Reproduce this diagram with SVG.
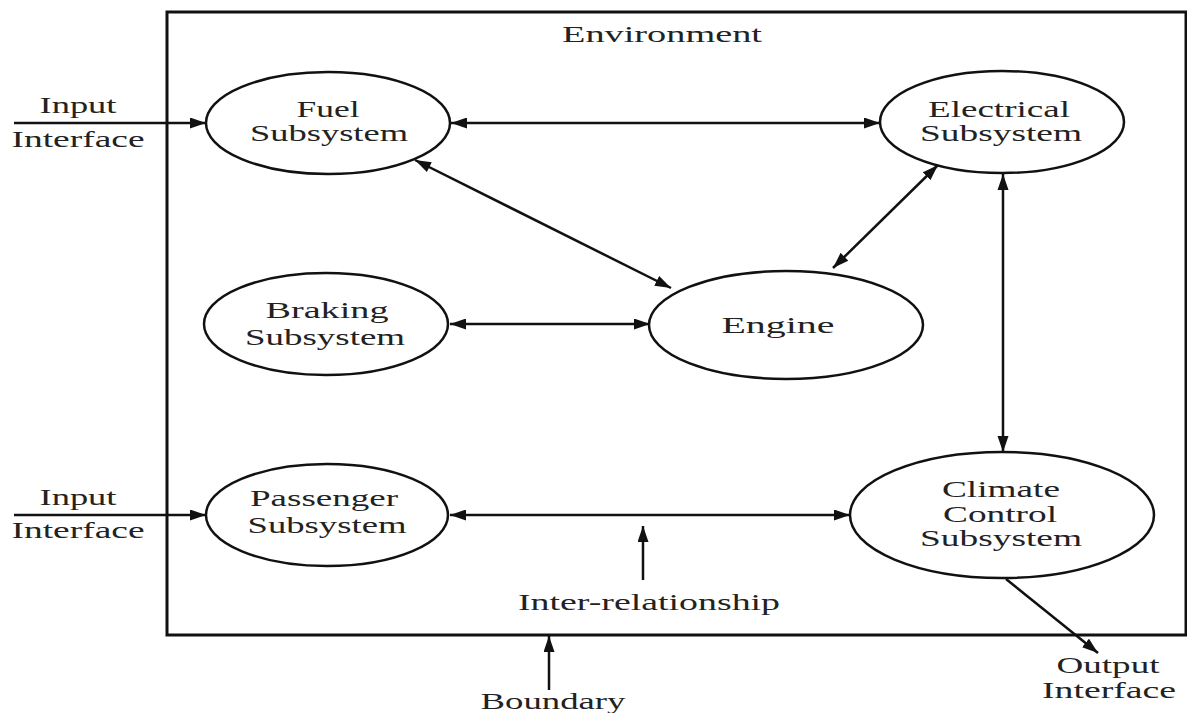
<svg xmlns="http://www.w3.org/2000/svg" width="1187" height="713" viewBox="0 0 1187 713">
<style>
text{font-family:"Liberation Serif","Times New Roman",serif;font-size:23px;fill:#222;text-anchor:middle}
.n{fill:#fff;stroke:#111;stroke-width:2.5}
.c{stroke:#111;stroke-width:2.5;fill:none}
.a{marker-end:url(#ah)}
.d{marker-start:url(#ahs);marker-end:url(#ah)}
</style>
<defs>
<marker id="ah" markerUnits="userSpaceOnUse" markerWidth="18" markerHeight="12" refX="16" refY="5.5" orient="auto"><path d="M0,0 L16,5.5 L0,11 Z" fill="#111"/></marker>
<marker id="ahs" markerUnits="userSpaceOnUse" markerWidth="18" markerHeight="12" refX="0" refY="5.5" orient="auto"><path d="M16,0 L0,5.5 L16,11 Z" fill="#111"/></marker>
</defs>
<rect width="1187" height="713" fill="#fff"/>
<g id="boundary">
<rect x="167" y="12" width="1019" height="623" fill="none" stroke="#111" stroke-width="3"/>
<text x="662" y="42" textLength="200" lengthAdjust="spacingAndGlyphs">Environment</text>
</g>
<g id="fuel"><ellipse class="n" cx="328" cy="123" rx="122" ry="51"/>
<text x="328" y="117" textLength="63" lengthAdjust="spacingAndGlyphs">Fuel</text>
<text x="329" y="141" textLength="158" lengthAdjust="spacingAndGlyphs">Subsystem</text></g>
<g id="electrical"><ellipse class="n" cx="1002" cy="122" rx="122" ry="51"/>
<text x="999" y="117" textLength="142" lengthAdjust="spacingAndGlyphs">Electrical</text>
<text x="1001" y="141" textLength="162" lengthAdjust="spacingAndGlyphs">Subsystem</text></g>
<g id="braking"><ellipse class="n" cx="326" cy="324" rx="122" ry="51"/>
<text x="327" y="318" textLength="123" lengthAdjust="spacingAndGlyphs">Braking</text>
<text x="325" y="345" textLength="160" lengthAdjust="spacingAndGlyphs">Subsystem</text></g>
<g id="engine"><ellipse class="n" cx="786" cy="325" rx="137" ry="54"/>
<text x="778" y="333" textLength="113" lengthAdjust="spacingAndGlyphs">Engine</text></g>
<g id="passenger"><ellipse class="n" cx="327" cy="515" rx="121" ry="51"/>
<text x="324" y="506" textLength="148" lengthAdjust="spacingAndGlyphs">Passenger</text>
<text x="327" y="533" textLength="159" lengthAdjust="spacingAndGlyphs">Subsystem</text></g>
<g id="climate"><ellipse class="n" cx="1002" cy="515" rx="152" ry="63"/>
<text x="1001" y="497" textLength="118" lengthAdjust="spacingAndGlyphs">Climate</text>
<text x="1000" y="522" textLength="114" lengthAdjust="spacingAndGlyphs">Control</text>
<text x="1001" y="546" textLength="162" lengthAdjust="spacingAndGlyphs">Subsystem</text></g>
<g id="labels">
<text x="78" y="113" textLength="77" lengthAdjust="spacingAndGlyphs">Input</text>
<text x="78" y="147" textLength="133" lengthAdjust="spacingAndGlyphs">Interface</text>
<text x="78" y="505" textLength="77" lengthAdjust="spacingAndGlyphs">Input</text>
<text x="78" y="538" textLength="133" lengthAdjust="spacingAndGlyphs">Interface</text>
<text x="649" y="610" textLength="262" lengthAdjust="spacingAndGlyphs">Inter-relationship</text>
<text x="553" y="709" textLength="145" lengthAdjust="spacingAndGlyphs">Boundary</text>
<text x="1108" y="673" textLength="103" lengthAdjust="spacingAndGlyphs">Output</text>
<text x="1109" y="698" textLength="134" lengthAdjust="spacingAndGlyphs">Interface</text>
</g>
<g id="connectors">
<line class="c a" x1="14" y1="123" x2="206" y2="123"/>
<line class="c a" x1="14" y1="515" x2="206" y2="515"/>
<line class="c d" x1="451" y1="123" x2="880" y2="123"/>
<line class="c d" x1="415" y1="160" x2="671" y2="288"/>
<line class="c d" x1="833" y1="268" x2="938" y2="165"/>
<line class="c d" x1="1003" y1="174" x2="1003" y2="452"/>
<line class="c d" x1="450" y1="324" x2="650" y2="324"/>
<line class="c d" x1="450" y1="515" x2="850" y2="515"/>
<line class="c a" x1="1006" y1="579" x2="1098" y2="653"/>
<line class="c a" x1="643" y1="580" x2="643" y2="526"/>
<line class="c a" x1="549" y1="690" x2="549" y2="636"/>
</g>
</svg>
